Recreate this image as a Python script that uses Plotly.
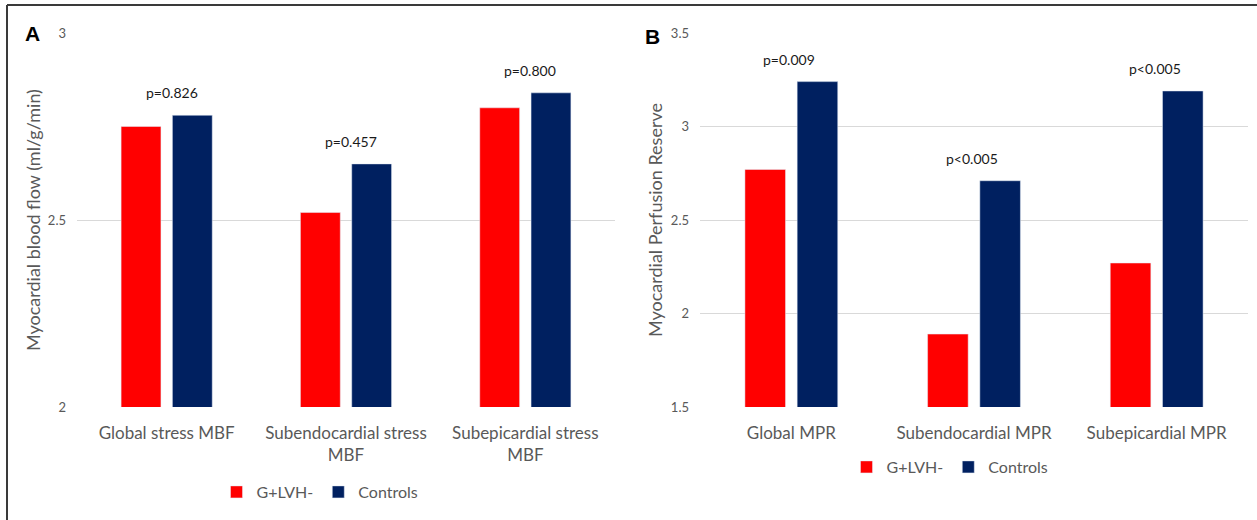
import plotly.graph_objects as go

# ---- data ----
cats_a = ["Global stress MBF", "Subendocardial stress<br>MBF", "Subepicardial stress<br>MBF"]
glvh_a = [2.75, 2.52, 2.80]
ctrl_a = [2.78, 2.65, 2.84]
pvals_a = ["p=0.826", "p=0.457", "p=0.800"]

cats_b = ["Global MPR", "Subendocardial MPR", "Subepicardial MPR"]
glvh_b = [2.77, 1.89, 2.27]
ctrl_b = [3.24, 2.71, 3.19]
pvals_b = ["p=0.009", "p<0.005", "p<0.005"]

series_names = ["G+LVH-", "Controls"]
RED = "#FF0000"
NAVY = "#002060"
GRAY = "#595959"
FONT = "Lato"

W, H = 1257, 520


def px_x(v):
    return v / W


def px_y(v):
    return 1 - v / H


fig = go.Figure()

fig.add_trace(go.Bar(x=cats_a, y=glvh_a, name=series_names[0], marker_color=RED,
                     xaxis="x", yaxis="y", legend="legend"))
fig.add_trace(go.Bar(x=cats_a, y=ctrl_a, name=series_names[1], marker_color=NAVY,
                     xaxis="x", yaxis="y", legend="legend"))
fig.add_trace(go.Bar(x=cats_b, y=glvh_b, name=series_names[0], marker_color=RED,
                     xaxis="x2", yaxis="y2", legend="legend2"))
fig.add_trace(go.Bar(x=cats_b, y=ctrl_b, name=series_names[1], marker_color=NAVY,
                     xaxis="x2", yaxis="y2", legend="legend2"))

ydom = [px_y(407), px_y(33)]

xcommon = dict(showgrid=False, zeroline=False, showline=False, ticks="", automargin=False,
               tickfont=dict(family=FONT, size=17, color=GRAY), ticklabelstandoff=14,
               fixedrange=True)
ycommon = dict(showgrid=True, gridcolor="#d9d9d9", gridwidth=1, zeroline=False, automargin=False,
               showline=False, ticks="", tickfont=dict(family=FONT, size=13, color=GRAY),
               ticklabelstandoff=10, fixedrange=True)

annotations = []
for cat, yv, txt in zip(cats_a, ctrl_a, pvals_a):
    annotations.append(dict(x=cat, y=yv, xref="x", yref="y", text=txt, showarrow=False,
                            yanchor="bottom", yshift=12, xshift=5,
                            font=dict(family=FONT, size=14, color="#1a1a1a")))
for cat, yv, txt in zip(cats_b, ctrl_b, pvals_b):
    annotations.append(dict(x=cat, y=yv, xref="x2", yref="y2", text=txt, showarrow=False,
                            yanchor="bottom", yshift=12, xshift=-2,
                            font=dict(family=FONT, size=14, color="#1a1a1a")))

# axis titles
annotations.append(dict(x=px_x(33), y=px_y(220), xref="paper", yref="paper",
                        xanchor="center", yanchor="middle",
                        text="Myocardial blood flow (ml/g/min)", textangle=-90,
                        showarrow=False, font=dict(family=FONT, size=18, color=GRAY)))
annotations.append(dict(x=px_x(655), y=px_y(220), xref="paper", yref="paper",
                        xanchor="center", yanchor="middle",
                        text="Myocardial Perfusion Reserve", textangle=-90,
                        showarrow=False, font=dict(family=FONT, size=18, color=GRAY)))
# panel letters
annotations.append(dict(x=px_x(32), y=px_y(34), xref="paper", yref="paper", text="<b>A</b>",
                        xanchor="center", yanchor="middle",
                        showarrow=False, font=dict(family="Liberation Sans", size=21, color="#000")))
annotations.append(dict(x=px_x(652), y=px_y(37), xref="paper", yref="paper", text="<b>B</b>",
                        xanchor="center", yanchor="middle",
                        showarrow=False, font=dict(family="Liberation Sans", size=21, color="#000")))

shapes = [
    dict(type="line", xref="paper", yref="paper", x0=px_x(7), x1=1.01, y0=px_y(5), y1=px_y(5),
         line=dict(color="#3a3a3a", width=2)),
    dict(type="line", xref="paper", yref="paper", x0=px_x(7), x1=px_x(7), y0=px_y(5), y1=-0.01,
         line=dict(color="#3a3a3a", width=2)),
]

legend_common = dict(orientation="h", xanchor="center", yanchor="middle",
                     font=dict(family=FONT, size=16, color=GRAY), bgcolor="rgba(0,0,0,0)",
                     itemwidth=30, tracegroupgap=0)

fig.update_layout(
    width=W, height=H, autosize=False,
    margin=dict(l=0, r=0, t=0, b=0, pad=0, autoexpand=False),
    paper_bgcolor="white", plot_bgcolor="white",
    barmode="group", bargap=0.428, bargroupgap=0.223,
    xaxis=dict(domain=[px_x(77), px_x(615)], anchor="y", **xcommon),
    yaxis=dict(domain=ydom, anchor="x", range=[2, 3], tickvals=[2, 2.5, 3], **ycommon),
    xaxis2=dict(domain=[px_x(700), px_x(1248)], anchor="y2", **xcommon),
    yaxis2=dict(domain=ydom, anchor="x2", range=[1.5, 3.5], dtick=0.5, tick0=1.5, **ycommon),
    legend=dict(x=px_x(320), y=px_y(492), **legend_common),
    legend2=dict(x=px_x(950), y=px_y(467), **legend_common),
    annotations=annotations,
    shapes=shapes,
    showlegend=True,
)

fig.write_html(
    "out.html", config={"displayModeBar": False},
    post_script=(
        "document.documentElement.style.margin='0';"
        "document.documentElement.style.overflow='hidden';"
        "document.body.style.margin='0';"
        "document.body.style.overflow='hidden';"
    ),
)
